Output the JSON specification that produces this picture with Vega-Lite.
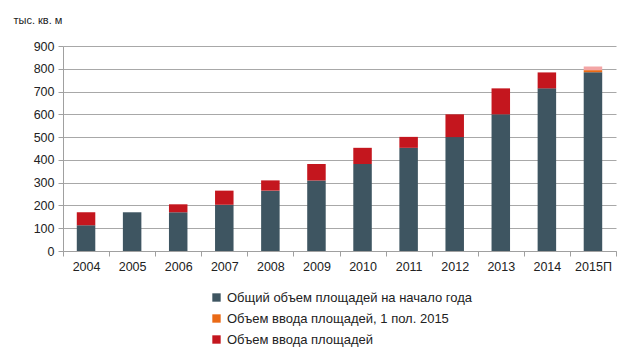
{
  "$schema": "https://vega.github.io/schema/vega-lite/v6.json",
  "width": 553,
  "height": 205,
  "autosize": {"type": "none"},
  "padding": {"left": 63, "top": 46, "right": 17, "bottom": 110},
  "background": "white",
  "config": {
    "font": "Liberation Sans",
    "view": {"stroke": null},
    "axis": {"labelFont": "Liberation Sans", "labelFontSize": 12.5, "labelColor": "#222", "domainColor": "#a0a0a0", "tickColor": "#a0a0a0", "gridColor": "#a8a8a8"}
  },
  "data": {
    "values": [
      {"year": "2004", "series": "Общий объем площадей на начало года", "value": 113},
      {"year": "2004", "series": "Объем ввода площадей", "value": 57},
      {"year": "2005", "series": "Общий объем площадей на начало года", "value": 170},
      {"year": "2005", "series": "Объем ввода площадей", "value": 0},
      {"year": "2006", "series": "Общий объем площадей на начало года", "value": 170},
      {"year": "2006", "series": "Объем ввода площадей", "value": 35},
      {"year": "2007", "series": "Общий объем площадей на начало года", "value": 203},
      {"year": "2007", "series": "Объем ввода площадей", "value": 62},
      {"year": "2008", "series": "Общий объем площадей на начало года", "value": 265},
      {"year": "2008", "series": "Объем ввода площадей", "value": 45},
      {"year": "2009", "series": "Общий объем площадей на начало года", "value": 309},
      {"year": "2009", "series": "Объем ввода площадей", "value": 73},
      {"year": "2010", "series": "Общий объем площадей на начало года", "value": 382},
      {"year": "2010", "series": "Объем ввода площадей", "value": 71},
      {"year": "2011", "series": "Общий объем площадей на начало года", "value": 453},
      {"year": "2011", "series": "Объем ввода площадей", "value": 48},
      {"year": "2012", "series": "Общий объем площадей на начало года", "value": 500},
      {"year": "2012", "series": "Объем ввода площадей", "value": 100},
      {"year": "2013", "series": "Общий объем площадей на начало года", "value": 600},
      {"year": "2013", "series": "Объем ввода площадей", "value": 114},
      {"year": "2014", "series": "Общий объем площадей на начало года", "value": 714},
      {"year": "2014", "series": "Объем ввода площадей", "value": 70},
      {"year": "2015П", "series": "Общий объем площадей на начало года", "value": 785},
      {"year": "2015П", "series": "Объем ввода площадей, 1 пол. 2015", "value": 9},
      {"year": "2015П", "series": "Прогноз", "value": 16}
    ]
  },
  "mark": {"type": "bar", "width": 18.5},
  "encoding": {
    "x": {
      "field": "year", "type": "nominal", "sort": null,
      "scale": {"paddingInner": 0, "paddingOuter": 0},
      "axis": {"title": null, "labelAngle": 0, "tickBand": "extent", "grid": false, "tickSize": 5, "labelPadding": 4}
    },
    "y": {
      "field": "value", "type": "quantitative", "aggregate": "sum", "stack": "zero",
      "scale": {"domain": [0, 900]},
      "axis": {"values": [0,100,200,300,400,500,600,700,800,900], "tickSize": 5, "labelPadding": 4,
        "title": "тыс. кв. м", "titleAngle": 0, "titleX": -50, "titleY": -26, "titleAlign": "left", "titleBaseline": "middle",
        "titleFont": "Liberation Sans", "titleFontSize": 11, "titleFontWeight": "normal", "titleColor": "#222"}
    },
    "color": {
      "field": "series", "type": "nominal",
      "scale": {
        "domain": ["Общий объем площадей на начало года", "Объем ввода площадей, 1 пол. 2015", "Объем ввода площадей", "Прогноз"],
        "range": ["#3e5561", "#ea6a16", "#c4161e", "#f3a5a5"]
      },
      "legend": {
        "title": null, "orient": "none", "legendX": 147, "legendY": 245, "direction": "vertical",
        "values": ["Общий объем площадей на начало года", "Объем ввода площадей, 1 пол. 2015", "Объем ввода площадей"],
        "symbolType": "square", "symbolSize": 70, "symbolStrokeWidth": 0, "labelFontSize": 13, "labelColor": "#222",
        "labelFont": "Liberation Sans", "labelLimit": 0, "rowPadding": 7, "labelOffset": 4
      }
    },
    "order": {"field": "series", "type": "nominal", "sort": "ascending"}
  }
}
